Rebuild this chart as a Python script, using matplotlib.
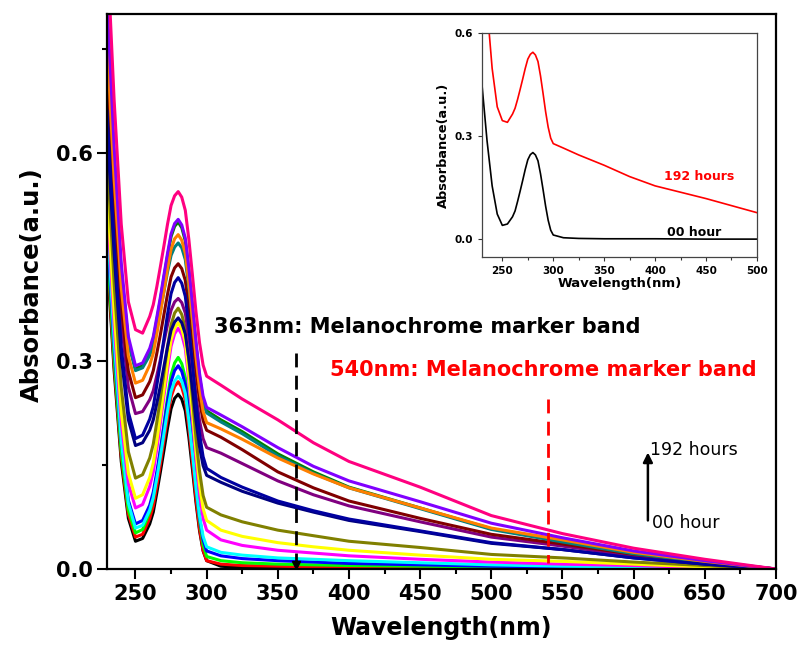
import matplotlib.pyplot as plt
from matplotlib.ticker import MultipleLocator

plt.rcParams['font.family'] = ['DejaVu Sans']
plt.rcParams['font.weight'] = 'bold'

# wavelength grid (nm)
wavelength = [230, 235, 240, 245, 250, 255, 260, 262.5, 265, 267.5, 270, 272.5, 275, 277.5, 280,
              282.5, 285, 287.5, 290, 292.5, 295, 297.5, 300,
              310, 325, 350, 375, 400, 450, 500, 550, 600, 650, 700]

# absorbance spectra, 00 hour -> 192 hours
a_black = [.450, .286, .155, .073, .040, .044, .065, .082, .110, .140, .171, .203, .231, .246, .252,
           .245, .228, .190, .144, .096, .055, .026, .012,
           .004, .002, .001, .001, .001, 0, 0, 0, 0, 0, 0]
a_red = [.460, .294, .162, .079, .046, .050, .073, .091, .120, .151, .185, .218, .248, .263, .270,
         .262, .244, .203, .154, .102, .058, .027, .012,
         .007, .005, .004, .003, .002, .002, .001, .001, 0, 0, 0]
a_green = [.470, .303, .169, .085, .052, .057, .082, .103, .135, .171, .209, .247, .280, .297, .305,
           .296, .276, .230, .176, .118, .070, .035, .018,
           .012, .009, .007, .006, .005, .004, .003, .002, .001, 0, 0]
a_blue = [.490, .320, .184, .099, .065, .070, .092, .111, .140, .172, .206, .241, .270, .286, .293,
          .285, .266, .224, .173, .119, .074, .042, .026,
          .019, .015, .012, .010, .008, .006, .004, .003, .002, .001, 0]
a_cyan = [.510, .330, .185, .095, .059, .063, .085, .103, .131, .162, .195, .228, .256, .271, .278,
          .271, .253, .214, .167, .118, .076, .047, .032,
          .024, .020, .016, .014, .012, .009, .006, .004, .003, .001, 0]
a_magenta = [.530, .353, .212, .123, .088, .093, .119, .140, .173, .210, .249, .287, .321, .339, .347,
             .338, .318, .271, .216, .158, .108, .073, .056,
             .042, .034, .027, .023, .019, .014, .010, .007, .005, .002, 0]
a_yellow = [.550, .371, .227, .138, .102, .107, .132, .153, .185, .221, .259, .297, .330, .347, .355,
            .346, .327, .281, .227, .170, .121, .087, .070,
            .056, .047, .038, .032, .027, .020, .014, .011, .007, .003, 0]
a_darkyellow = [.600, .412, .262, .169, .131, .136, .160, .180, .212, .246, .283, .320, .352, .369, .376,
                .367, .347, .301, .247, .189, .141, .106, .089,
                .078, .068, .056, .048, .040, .031, .021, .016, .010, .005, 0]
a_navy = [.640, .455, .307, .215, .178, .182, .200, .215, .239, .264, .292, .320, .344, .356, .362,
          .355, .339, .303, .260, .214, .176, .149, .135,
          .125, .112, .095, .082, .070, .054, .037, .028, .016, .007, 0]
a_purple = [.700, .510, .357, .262, .224, .227, .244, .257, .279, .302, .327, .352, .373, .385, .390,
            .384, .369, .334, .293, .250, .214, .188, .175,
            .167, .152, .127, .107, .091, .068, .046, .033, .019, .009, 0]
a_wine = [.720, .531, .379, .285, .247, .251, .270, .286, .311, .338, .367, .396, .421, .434, .440,
          .433, .416, .378, .332, .284, .243, .214, .200,
          .190, .172, .140, .117, .098, .073, .050, .036, .021, .010, 0]
a_olive = [.790, .590, .429, .329, .289, .293, .314, .331, .359, .388, .420, .451, .479, .494, .500,
           .492, .473, .429, .378, .323, .277, .244, .228,
           .215, .198, .166, .140, .118, .088, .058, .040, .023, .011, 0]
a_darkcyan = [.780, .582, .424, .326, .286, .290, .308, .323, .347, .372, .400, .428, .452, .464, .470,
              .463, .446, .406, .360, .311, .269, .240, .225,
              .212, .195, .163, .138, .117, .087, .057, .039, .022, .010, 0]
a_royal = [.660, .471, .320, .226, .188, .193, .216, .234, .265, .297, .332, .367, .397, .413, .420,
           .412, .393, .349, .296, .241, .195, .162, .145,
           .132, .118, .098, .084, .072, .055, .038, .028, .016, .007, 0]
a_orange = [.760, .563, .406, .307, .268, .272, .294, .311, .339, .369, .401, .433, .461, .476, .482,
            .474, .455, .412, .360, .306, .260, .227, .211,
            .202, .187, .160, .137, .117, .088, .059, .042, .024, .011, 0]
a_violet = [.820, .609, .441, .335, .293, .297, .318, .335, .363, .392, .424, .455, .483, .498, .504,
            .496, .477, .434, .382, .328, .282, .249, .233,
            .222, .205, .175, .148, .127, .097, .066, .045, .026, .012, 0]
a_pink = [.900, .676, .497, .385, .345, .340, .364, .381, .407, .436, .466, .497, .524, .538, .544,
          .536, .517, .475, .424, .371, .326, .294, .278,
          .265, .245, .215, .182, .155, .118, .077, .051, .030, .014, 0]

spectra = [a_black, a_red, a_green, a_blue, a_cyan, a_magenta, a_yellow, a_darkyellow, a_navy,
           a_purple, a_wine, a_olive, a_darkcyan, a_royal, a_orange, a_violet, a_pink]
colors = ['#000000', '#FF0000', '#00FF00', '#0000FF', '#00FFFF', '#FF00FF', '#FFFF00', '#808000', '#000080',
          '#800080', '#800000', '#008000', '#008080', '#0000A0', '#FF8000', '#8000FF', '#FF0080']

fig = plt.figure(figsize=(8.01, 6.46), dpi=100)
ax = fig.add_axes([0.1336, 0.1192, 0.8352, 0.8591])

for s, c in zip(spectra, colors):
    ax.plot(wavelength, s, color=c, lw=2.2)

ax.set_xlim(230, 700)
ax.set_ylim(0, 0.8)
ax.xaxis.set_major_locator(MultipleLocator(50))
ax.xaxis.set_minor_locator(MultipleLocator(25))
ax.set_yticks([0.0, 0.3, 0.6])
ax.yaxis.set_minor_locator(MultipleLocator(0.15))
ax.tick_params(which='major', direction='out', length=7, width=1.5, labelsize=15)
ax.tick_params(which='minor', direction='out', length=3.5, width=1.5)
for sp in ax.spines.values():
    sp.set_linewidth(1.6)
ax.set_xlabel('Wavelength(nm)', fontsize=17, fontweight='bold')
ax.set_ylabel('Absorbance(a.u.)', fontsize=17.5, fontweight='bold')
ax.xaxis.set_label_coords(0.5, -0.085)
ax.yaxis.set_label_coords(-0.095, 0.512)

# marker bands
ax.plot([363, 363], [0.311, 0.006], color='black', ls='--', lw=2, dashes=(5, 3))
ax.plot([363], [0.006], marker='v', color='black', ms=6)
ax.text(305.5, 0.349, '363nm: Melanochrome marker band', fontsize=15, fontweight='bold',
        color='black', va='center')
ax.plot([540, 540], [0.245, 0.009], color='red', ls='--', lw=2, dashes=(5, 3))
ax.text(386.4, 0.287, '540nm: Melanochrome marker band', fontsize=15, fontweight='bold',
        color='red', va='center')

# time arrow
ax.annotate('', xy=(610, 0.172), xytext=(610, 0.066),
            arrowprops=dict(arrowstyle='-|>', color='black', lw=1.8, mutation_scale=14))
ax.text(611.5, 0.172, '192 hours', fontsize=12.5, fontweight='normal', va='center')
ax.text(613, 0.066, '00 hour', fontsize=12.5, fontweight='normal', va='center')

# inset: first and last spectrum
ins = fig.add_axes([0.6017, 0.6022, 0.3433, 0.3467])
ins.plot(wavelength, a_black, color='black', lw=1.2)
ins.plot(wavelength, a_pink, color='red', lw=1.2)
ins.set_xlim(230, 500)
ins.set_ylim(-0.052, 0.6)
ins.xaxis.set_major_locator(MultipleLocator(50))
ins.xaxis.set_minor_locator(MultipleLocator(25))
ins.set_yticks([0.0, 0.3, 0.6])
ins.tick_params(which='major', direction='out', length=3, width=0.8, labelsize=7.5, colors='#333333',
                labelcolor='black')
ins.tick_params(which='minor', direction='out', length=2, width=0.8, colors='#333333')
for sp in ins.spines.values():
    sp.set_linewidth(0.9)
    sp.set_color('#444444')
ins.set_xlabel('Wavelength(nm)', fontsize=9.5, fontweight='bold', labelpad=1)
ins.set_ylabel('Absorbance(a.u.)', fontsize=9.3, fontweight='bold', labelpad=3)
ins.text(409, 0.183, '192 hours', color='red', fontsize=9, fontweight='bold', va='center')
ins.text(412, 0.02, '00 hour', color='black', fontsize=9, fontweight='bold', va='center')

plt.savefig('out.png', dpi=100)
